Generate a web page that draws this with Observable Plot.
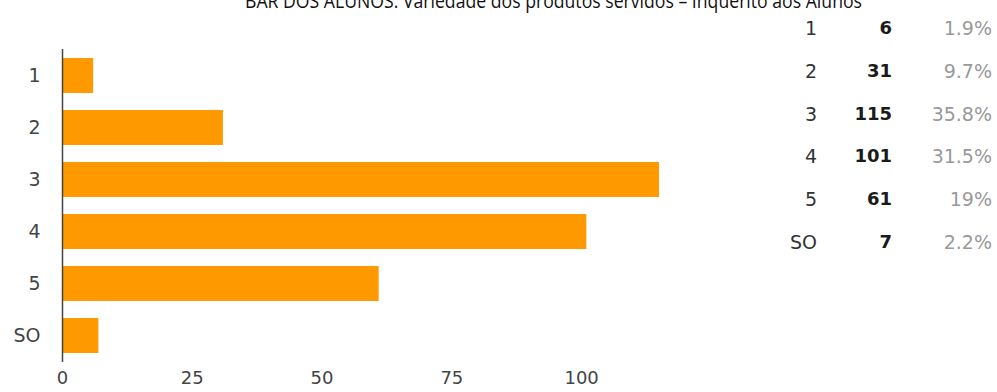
<!DOCTYPE html>
<html>
<head>
<meta charset="utf-8">
<script src="https://cdn.jsdelivr.net/npm/d3@7"></script>
<script src="https://cdn.jsdelivr.net/npm/@observablehq/plot@0.6"></script>
<style>
  html, body { margin: 0; padding: 0; background: #fff; overflow: hidden; }
  #wrap { position: relative; width: 997px; height: 392px; font-family: "DejaVu Sans", Arial, sans-serif; }
  #chart { position: absolute; left: 0; top: 0; }
  #title { position: absolute; left: 0; top: 0; }
  #tbl { position: absolute; left: 767px; top: 7px; border-collapse: collapse; font-size: 19px; }
  #tbl td { padding: 0; height: 42.8px; line-height: 42.8px; text-align: right; }
  #tbl td.c1 { width: 50px; color: #333; }
  #tbl td.c2 { width: 75px; color: #1a1a1a; font-weight: bold; font-size: 18px; }
  #tbl td.c3 { width: 100px; color: #999; }
</style>
</head>
<body>
<div id="wrap">
  <div id="chart"></div>
  <svg id="title" width="997" height="20"></svg>
  <table id="tbl"></table>
</div>
<script>
const title = "BAR DOS ALUNOS: Variedade dos produtos servidos – Inquérito aos Alunos";
const categories = ["1", "2", "3", "4", "5", "SO"];
const counts = [6, 31, 115, 101, 61, 7];
const percents = ["1.9%", "9.7%", "35.8%", "31.5%", "19%", "2.2%"];
const xTicks = [0, 25, 50, 75, 100];

const data = categories.map((c, i) => ({cat: c, n: counts[i]}));

const chart = Plot.plot({
  width: 997,
  height: 392,
  marginLeft: 62,
  marginRight: 338,
  marginTop: 49,
  marginBottom: 30,
  x: {domain: [0, 115], label: null},
  y: {domain: categories, paddingInner: 0.32, paddingOuter: 0.16, label: null},
  style: {fontFamily: "'DejaVu Sans', Arial, sans-serif", fontSize: "19px", color: "#444", background: "transparent"},
  marks: [
    Plot.barX(data, {x: "n", y: "cat", fill: "#ff9900"}),
    Plot.ruleX([0], {stroke: "#444", strokeWidth: 1.5}),
    Plot.axisX({ticks: xTicks, tickSize: 0, tickPadding: 9, label: null, fill: "#444", fontSize: 18}),
    Plot.axisY({tickSize: 0, tickPadding: 22, label: null, fill: "#444", fontSize: 19})
  ]
});
document.getElementById("chart").appendChild(chart);

// Title (cut off at the top as in the reference)
const tsvg = d3.select("#title");
tsvg.append("text")
  .attr("x", 245).attr("y", 8)
  .attr("textLength", 617).attr("lengthAdjust", "spacingAndGlyphs")
  .attr("font-family", "'Open Sans', 'Liberation Sans', Arial, sans-serif")
  .attr("font-size", 20).attr("fill", "#111")
  .text(title);

// Summary table
const tbl = d3.select("#tbl");
categories.forEach((c, i) => {
  const tr = tbl.append("tr");
  tr.append("td").attr("class", "c1").text(c);
  tr.append("td").attr("class", "c2").text(counts[i]);
  tr.append("td").attr("class", "c3").text(percents[i]);
});
</script>
</body>
</html>
